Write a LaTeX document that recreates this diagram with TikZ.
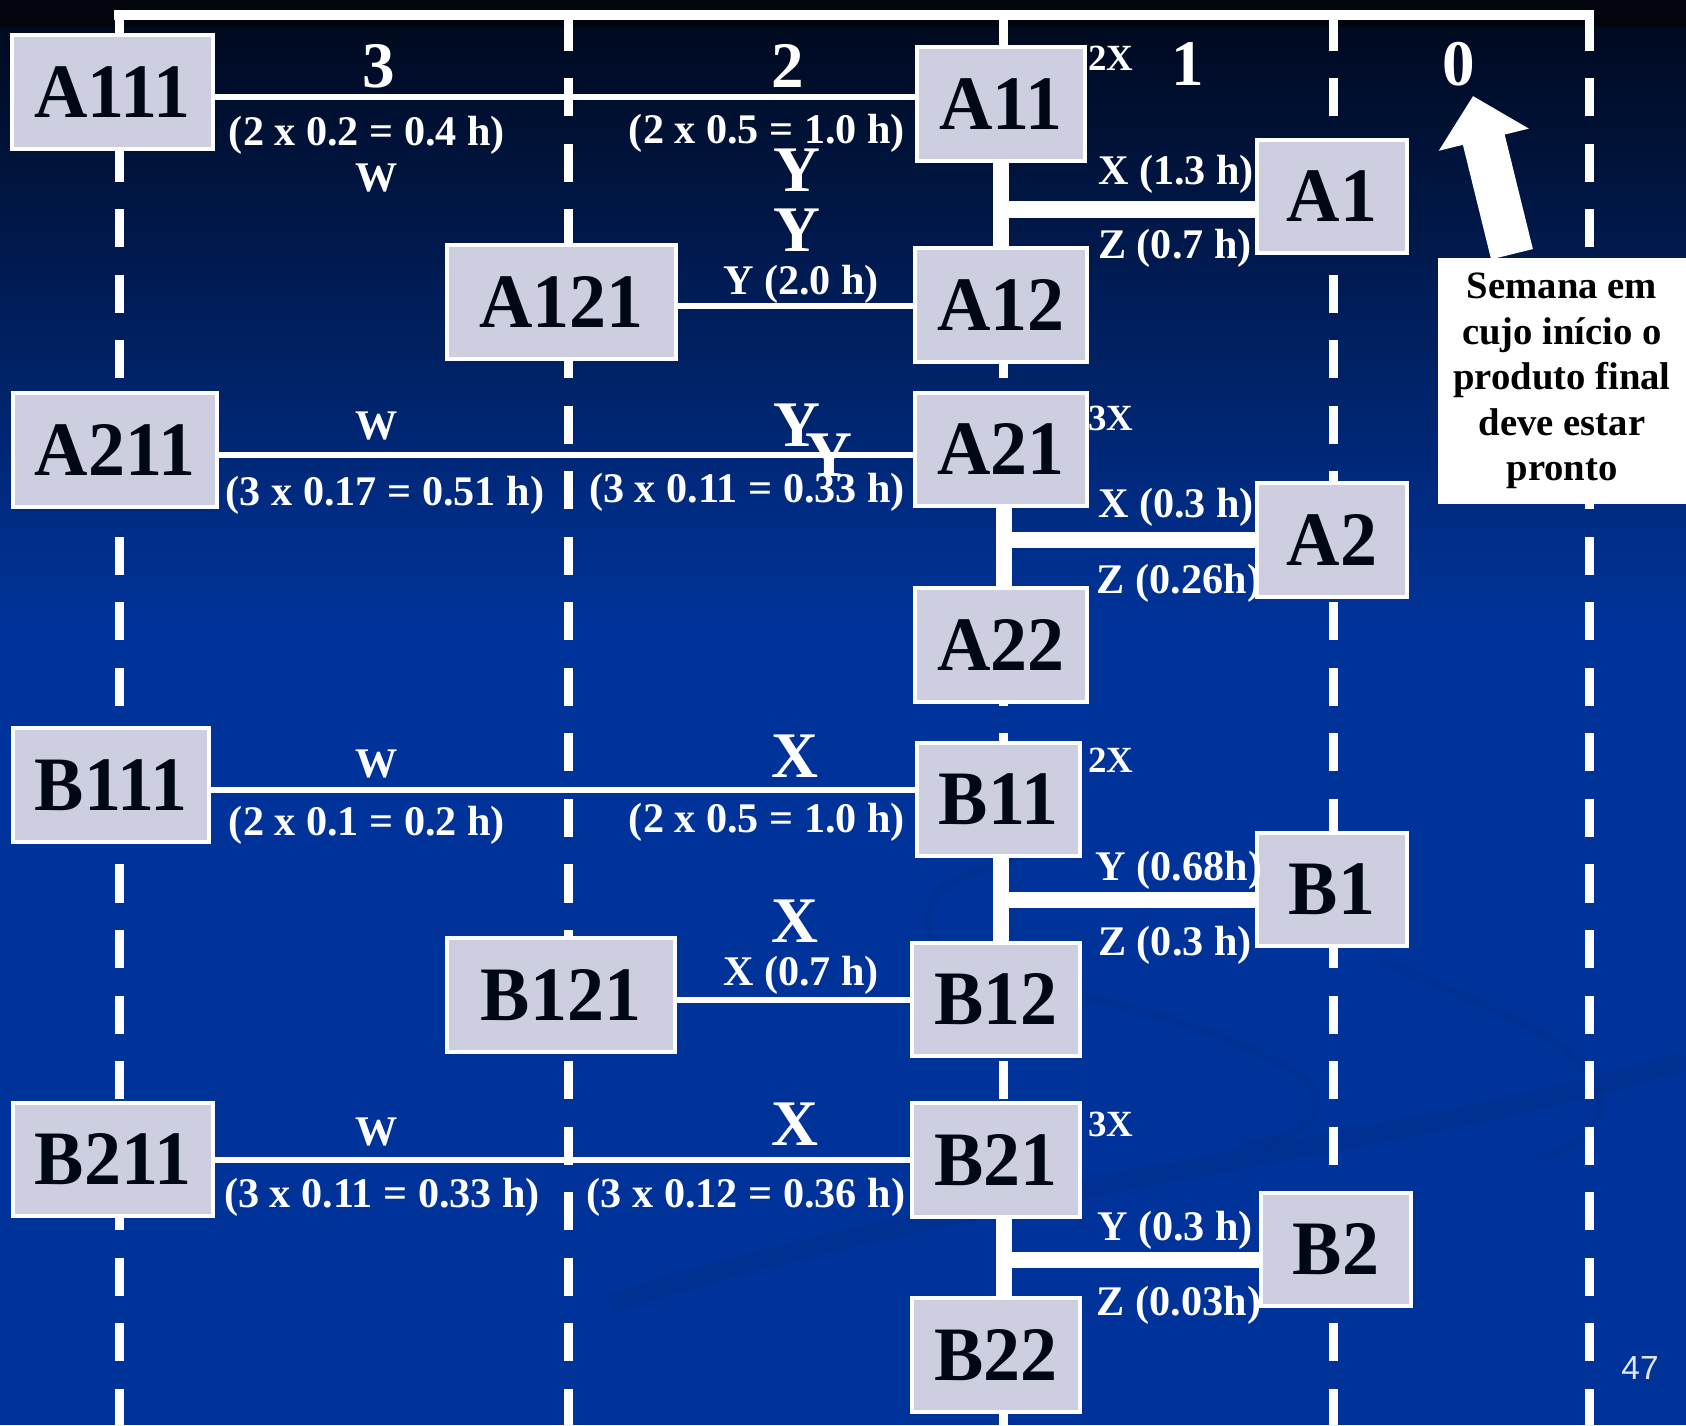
\documentclass[tikz,border=0pt]{standalone}
\usepackage{fontspec}
\setmainfont{Liberation Serif}
\newfontfamily\boxfont[FakeStretch=0.96]{Liberation Serif}
\newfontfamily\pagefont{Liberation Sans}
\usetikzlibrary{arrows.meta,positioning,calc}
\definecolor{bgBlue}{RGB}{0,51,153}
\definecolor{bgTop}{RGB}{0,10,32}
\definecolor{bgBand}{RGB}{2,4,14}
\definecolor{boxFill}{RGB}{205,206,224}
\definecolor{boxText}{RGB}{0,8,22}
\definecolor{swoosh}{RGB}{0,44,134}

\begin{document}
\begin{tikzpicture}[x=0.01cm, y=-0.01cm,
    part/.style={draw=white, line width=0.04cm, fill=boxFill, text=boxText,
      font=\boxfont\bfseries\fontsize{21.9}{24}\selectfont,
      minimum width=1.5cm, minimum height=1.13cm, inner xsep=0.22cm},
    lbl/.style={text=white, font=\bfseries\fontsize{12}{14}\selectfont, anchor=base, inner sep=0pt},
    big/.style={lbl, font=\bfseries\fontsize{18.5}{20}\selectfont},
    mult/.style={lbl, font=\bfseries\fontsize{10.5}{12}\selectfont},
    link/.style={white, line width=0.06cm},
    trunk/.style={white, line width=0.165cm},
    week/.style={white, line width=0.09cm, dash pattern=on 0.38cm off 0.275cm},
    note/.style={fill=white, text=black, font=\bfseries\fontsize{11}{12.9}\selectfont,
      align=center, minimum width=2.48cm, minimum height=2.45cm, inner sep=0pt},
    bigarrow/.style={white, line width=0.43cm, -{Triangle[length=0.45cm, width=0.9cm]}}]
  \useasboundingbox (0,0) rectangle (1686,1425);

  % slide background
  \fill[bgBand] (0,0) rectangle (1686,28);
  \shade[top color=bgTop, bottom color=bgBlue] (0,28) rectangle (1686,620);
  \fill[bgBlue] (0,620) rectangle (1686,1425);
  \begin{scope}[swoosh, line width=0.08cm, opacity=0.35]
    \draw (1014,862) .. controls (900,880) and (900,950) .. (1000,975)
      .. controls (1150,1010) and (1330,1060) .. (1317,1108)
      .. controls (1305,1140) and (1260,1145) .. (1241,1141);
    \draw (1380,960) .. controls (1450,990) and (1500,1010) .. (1544,1035)
      .. controls (1620,1080) and (1620,1140) .. (1536,1158);
    \draw[line width=0.2cm] (613,1303) .. controls (1000,1180) and (1400,1150) .. (1686,1060);
  \end{scope}

  % weeks grid
  \draw[white, line width=0.1cm] (114,15) -- (1594,15);
  \foreach \wx in {119,568,1003,1333,1589}
    \draw[week] (\wx,12.5) -- (\wx,1425);

  % column 3
  \node[part] (A111) at (112.5,92) {A111};
  \node[part] (A211) at (115,450) {A211};
  \node[part] (B111) at (111,785) {B111};
  \node[part] (B211) at (113,1159.5) {B211};
  % column 2
  \node[part, minimum width=2.28cm] (A121) at (561.5,302) {A121};
  \node[part, minimum width=2.28cm] (B121) at (561,995) {B121};
  % column 1
  \node[part] (A11) at (1001,104) {A11};
  \node[part] (A12) at (1001,305) {A12};
  \node[part] (A21) at (1001,449.5) {A21};
  \node[part] (A22) at (1001,645) {A22};
  \node[part] (B11) at (998.5,799.5) {B11};
  \node[part] (B12) at (996,999.5) {B12};
  \node[part] (B21) at (996,1160) {B21};
  \node[part] (B22) at (996,1355) {B22};
  % column 0
  \node[part] (A1) at (1332,196.5) {A1};
  \node[part] (A2) at (1332,540) {A2};
  \node[part] (B1) at (1332,889.5) {B1};
  \node[part] (B2) at (1336,1249.5) {B2};

  % thin links
  \draw[link] (A111.east |- 0,97) -- (A11.west |- 0,97);
  \draw[link] (A121.east |- 0,306) -- (A12.west |- 0,306);
  \draw[link] (A211.east |- 0,455) -- (A21.west |- 0,455);
  \draw[link] (B111.east |- 0,790) -- (B11.west |- 0,790);
  \draw[link] (B121.east |- 0,999.5) -- (B12.west |- 0,999.5);
  \draw[link] (B211.east |- 0,1159.5) -- (B21.west |- 0,1159.5);

  % thick trees
  \draw[trunk] (A11.south) -- (A12.north);
  \draw[trunk] (A1.west |- 0,209.5) -- (A11.south |- 0,209.5);
  \draw[trunk] ([xshift=0.03cm]A21.south) -- ([xshift=0.03cm]A22.north);
  \draw[trunk] (A2.west) -- (A2.west -| A21.south);
  \draw[trunk] (B11.south -| A11.south) -- (B12.north -| A11.south);
  \draw[trunk] (B1.west |- 0,900) -- (A11.south |- 0,900);
  \draw[trunk] ([xshift=0.08cm]B21.south) -- ([xshift=0.08cm]B21.south |- B22.north);
  \draw[trunk] (B2.west |- 0,1260) -- (B21.south |- 0,1260);

  % week numbers
  \node[big] (wk3) at (379,88) {3};
  \node[big] (wk2) at (788,88) {2};
  \node[big] (wk1) at (1188,86) {1};
  \node[big] (wk0) at (1459,86) {0};

  % labels, A1 family
  \node[lbl] (tA111) at (367,146) {(2 x 0.2 = 0.4 h)};
  \node[lbl] (wA111) at (377,192) {W};
  \node[lbl] (tA11) at (767,144) {(2 x 0.5 = 1.0 h)};
  \node[big] (yA11) at (797,192) {Y};
  \node[big] (yA12) at (797,252) {Y};
  \node[lbl] (tA121) at (801,295) {Y (2.0 h)};
  \node[mult] (mA11) at (1111,71) {2X};
  \node[lbl] (tA1x) at (1176,185) {X (1.3 h)};
  \node[lbl] (tA1z) at (1175,259) {Z (0.7 h)};

  % labels, A2 family
  \node[lbl] (wA211) at (377,440) {W};
  \node[big] (yA21) at (797,447) {Y};
  \node[big] (yA21b) at (829,477) {Y};
  \node[lbl] (tA211) at (385,505) {(3 x 0.17 = 0.51 h)};
  \node[lbl] (tA21) at (747,502) {(3 x 0.11 = 0.33 h)};
  \node[mult] (mA21) at (1111,431) {3X};
  \node[lbl] (tA2x) at (1176,518) {X (0.3 h)};
  \node[lbl] (tA2z) at (1179,593) {Z (0.26h)};

  % labels, B1 family
  \node[lbl] (wB111) at (377,777) {W};
  \node[big] (xB11) at (795,777) {X};
  \node[lbl] (tB111) at (367,835) {(2 x 0.1 = 0.2 h)};
  \node[lbl] (tB11) at (767,832) {(2 x 0.5 = 1.0 h)};
  \node[mult] (mB11) at (1111,772) {2X};
  \node[big] (xB12) at (795,942) {X};
  \node[lbl] (tB121) at (801,985) {X (0.7 h)};
  \node[lbl] (tB1y) at (1179,880) {Y (0.68h)};
  \node[lbl] (tB1z) at (1175,955) {Z (0.3 h)};

  % labels, B2 family
  \node[lbl] (wB211) at (377,1145) {W};
  \node[big] (xB21) at (795,1145) {X};
  \node[lbl] (tB211) at (382,1207) {(3 x 0.11 = 0.33 h)};
  \node[lbl] (tB21) at (746,1207) {(3 x 0.12 = 0.36 h)};
  \node[mult] (mB21) at (1111,1136) {3X};
  \node[lbl] (tB2y) at (1175,1240) {Y (0.3 h)};
  \node[lbl] (tB2z) at (1179,1315) {Z (0.03h)};

  % due week note
  \node[note] (note) at (1562,381) {Semana em\\cujo início o\\produto final\\deve estar\\pronto};
  \coordinate (zerotip) at (1473,96);
  \draw[bigarrow] ([xshift=-0.5cm,yshift=0.035cm]note.north) -- (zerotip);

  \node[text=white!88!bgBlue, font=\pagefont\fontsize{9.5}{11}\selectfont, anchor=base, inner sep=0pt]
    (pgno) at (1640,1379) {47};
\end{tikzpicture}
\end{document}
